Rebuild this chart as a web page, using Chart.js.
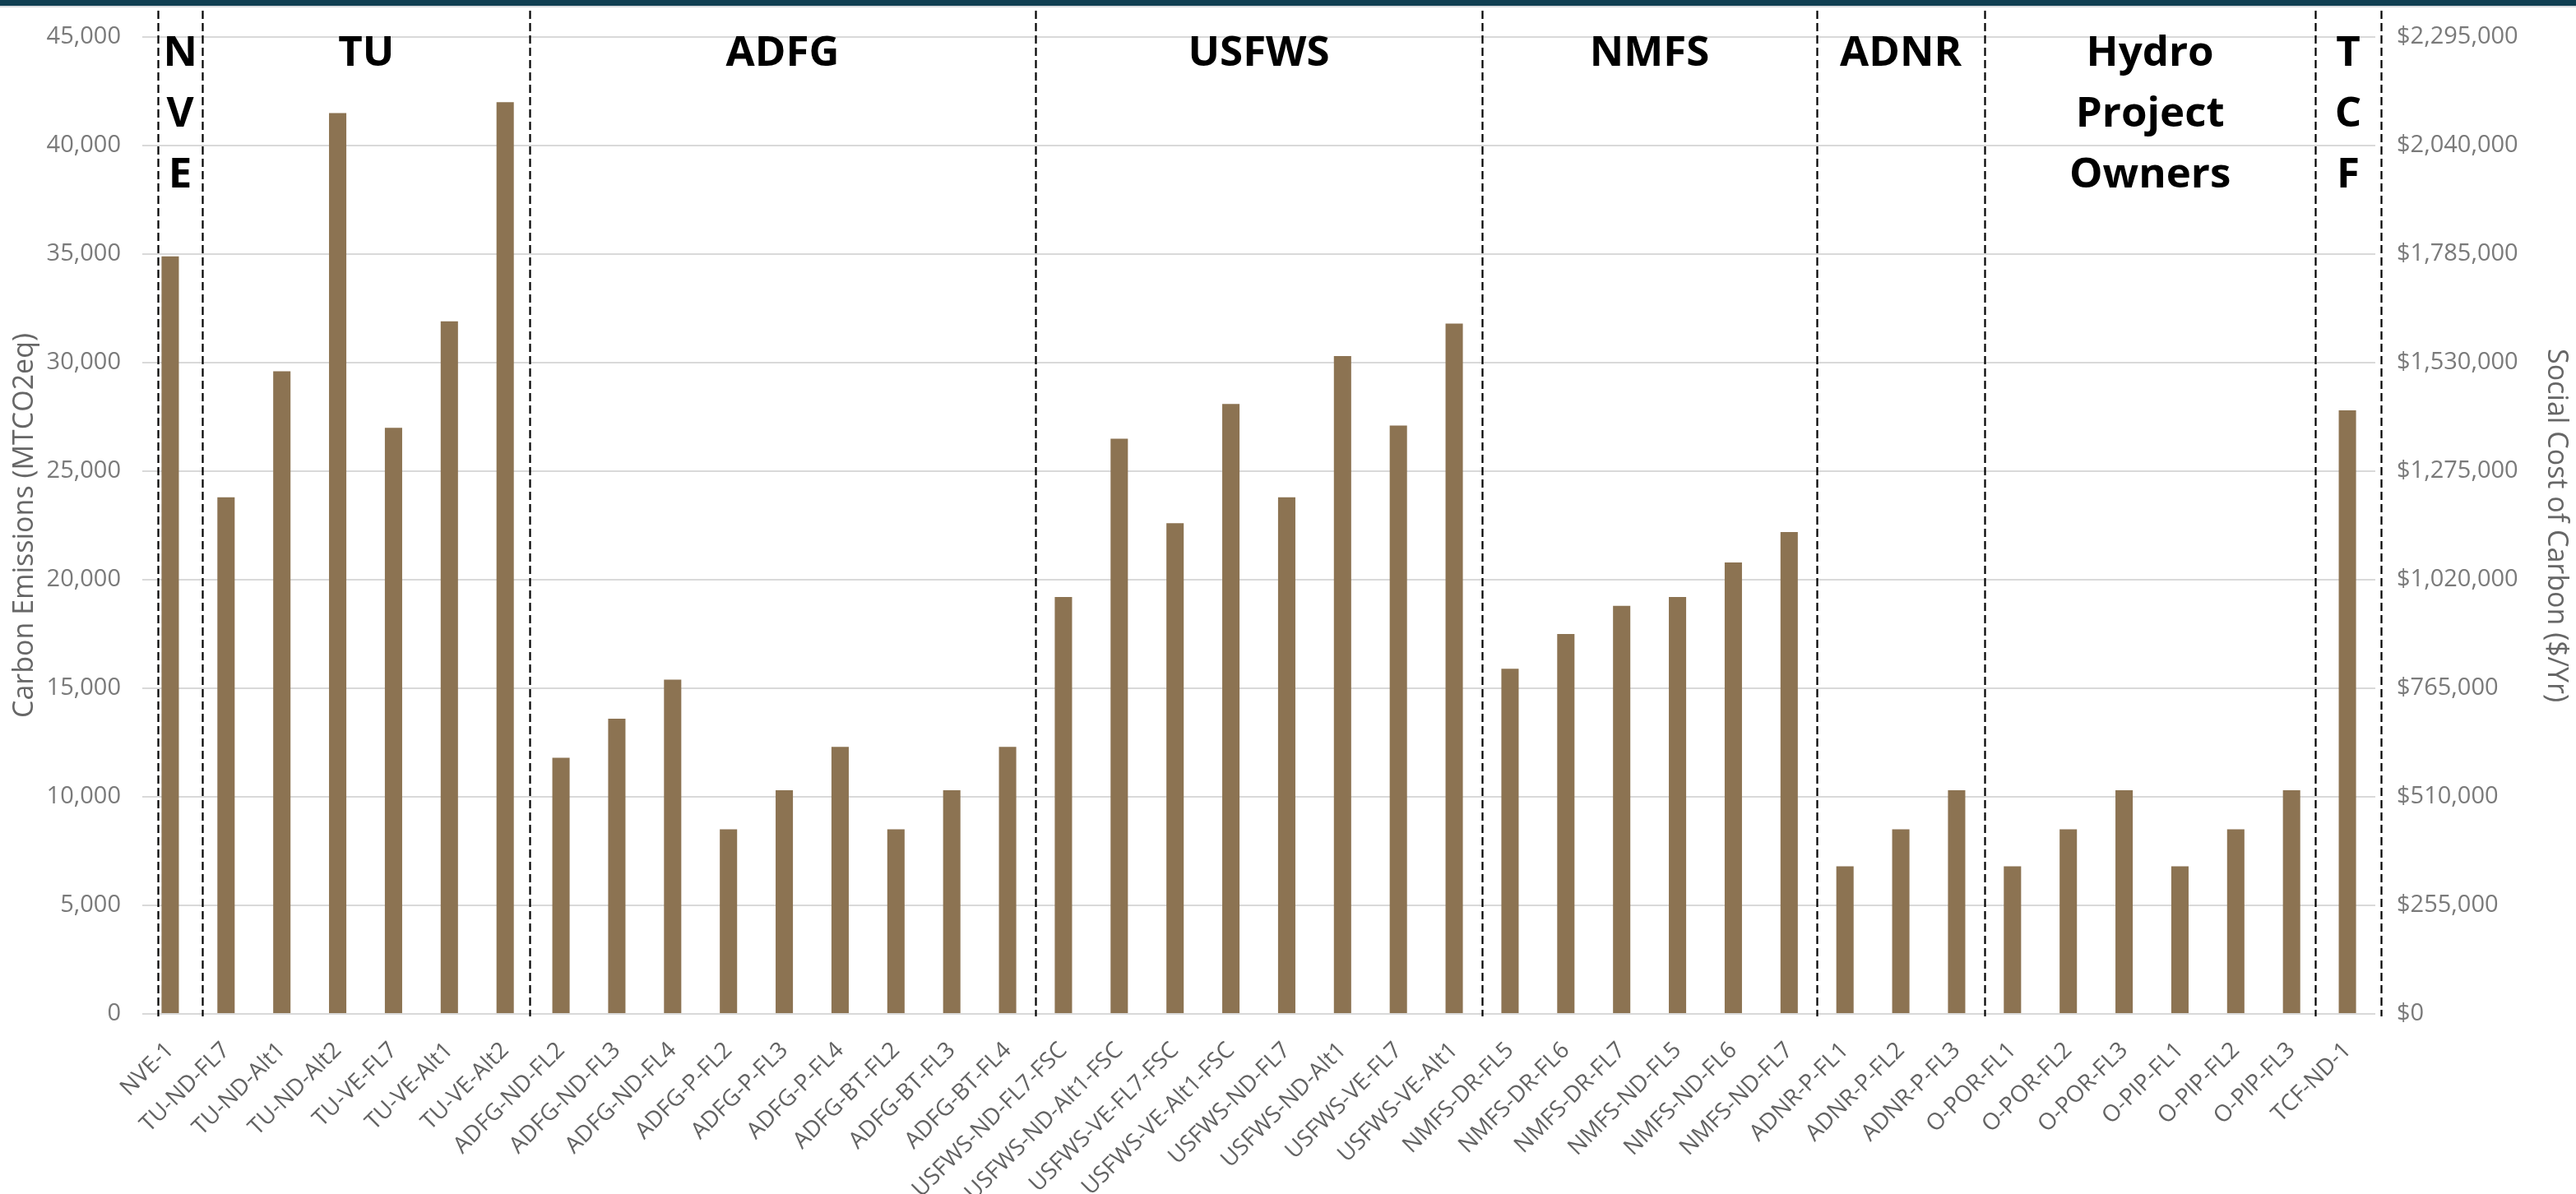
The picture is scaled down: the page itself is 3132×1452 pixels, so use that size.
<!DOCTYPE html>
<html>
<head>
<meta charset="utf-8">
<script src="https://cdn.jsdelivr.net/npm/chart.js@4.4.1/dist/chart.umd.min.js"></script>
<style>
  html, body { margin: 0; padding: 0; background: #ffffff; }
  #wrap { position: relative; width: 3132px; height: 1452px; }
</style>
</head>
<body>
<div id="wrap"><canvas id="chart"></canvas></div>
<script>
// Scenario names along the x axis
const scenarios = [
    'NVE-1',
    'TU-ND-FL7', 'TU-ND-Alt1', 'TU-ND-Alt2', 'TU-VE-FL7', 'TU-VE-Alt1', 'TU-VE-Alt2',
    'ADFG-ND-FL2', 'ADFG-ND-FL3', 'ADFG-ND-FL4', 'ADFG-P-FL2', 'ADFG-P-FL3', 'ADFG-P-FL4',
    'ADFG-BT-FL2', 'ADFG-BT-FL3', 'ADFG-BT-FL4',
    'USFWS-ND-FL7-FSC', 'USFWS-ND-Alt1-FSC', 'USFWS-VE-FL7-FSC', 'USFWS-VE-Alt1-FSC',
    'USFWS-ND-FL7', 'USFWS-ND-Alt1', 'USFWS-VE-FL7', 'USFWS-VE-Alt1',
    'NMFS-DR-FL5', 'NMFS-DR-FL6', 'NMFS-DR-FL7', 'NMFS-ND-FL5', 'NMFS-ND-FL6', 'NMFS-ND-FL7',
    'ADNR-P-FL1', 'ADNR-P-FL2', 'ADNR-P-FL3',
    'O-POR-FL1', 'O-POR-FL2', 'O-POR-FL3', 'O-PIP-FL1', 'O-PIP-FL2', 'O-PIP-FL3',
    'TCF-ND-1'
];

// Carbon emissions (MTCO2eq)
const emissions = [
    34900,
    23800, 29600, 41500, 27000, 31900, 42000,
    11800, 13600, 15400, 8500, 10300, 12300, 8500, 10300, 12300,
    19200, 26500, 22600, 28100, 23800, 30300, 27100, 31800,
    15900, 17500, 18800, 19200, 20800, 22200,
    6800, 8500, 10300,
    6800, 8500, 10300, 6800, 8500, 10300,
    27800
];

// Agency headers, one entry per line of text
const groupLabels = [
    ['N', 'V', 'E'], ['TU'], ['ADFG'], ['USFWS'], ['NMFS'], ['ADNR'],
    ['Hydro', 'Project', 'Owners'], ['T', 'C', 'F']
];

// Dashed separators, in category units (index of the bar)
const dividerAt = [-0.22, 0.58, 6.44, 15.5, 23.5, 29.5, 32.5, 38.43, 39.6];

// Axis ranges: the right axis is the left one times $51 per tonne
const emissionsMax = 45000;
const emissionsStep = 5000;
const costMax = 2295000;
const costStep = 255000;

const colors = {
    bar: '#8c7352',
    grid: '#d9d9d9',
    tick: '#7a7a7a',
    xTick: '#636363',
    title: '#666666',
    band: '#0f3e51'
};

const fmt = (v) => Number(v).toLocaleString('en-US');

// Top banner strip
const bandPlugin = {
    id: 'band',
    beforeDraw(chart) {
        const { ctx, width } = chart;
        ctx.save();
        ctx.fillStyle = '#ffffff';
        ctx.fillRect(0, 0, width, chart.height);
        ctx.fillStyle = colors.band;
        ctx.fillRect(0, 0, width, 7);
        ctx.fillStyle = '#d8dbde';
        ctx.fillRect(0, 7, width, 2);
        ctx.restore();
    }
};

// Dashed group separators and the bold agency headers
const groupPlugin = {
    id: 'groups',
    afterDatasetsDraw(chart) {
        const { ctx, chartArea } = chart;
        const x = chart.scales.x;
        ctx.save();
        ctx.strokeStyle = '#000000';
        ctx.lineWidth = 2.2;
        ctx.setLineDash([10, 5]);
        dividerAt.forEach(v => {
            const px = Math.round(x.getPixelForValue(v)) + 0.5;
            ctx.beginPath();
            ctx.moveTo(px, 13);
            ctx.lineTo(px, chartArea.bottom + 3);
            ctx.stroke();
        });
        ctx.setLineDash([]);

        ctx.fillStyle = '#000000';
        ctx.font = 'bold 51px "Open Sans"';
        ctx.textAlign = 'center';
        ctx.textBaseline = 'alphabetic';
        groupLabels.forEach((lines, i) => {
            const cx = x.getPixelForValue((dividerAt[i] + dividerAt[i + 1]) / 2);
            lines.forEach((line, j) => {
                ctx.fillText(line, cx, 80 + j * 74);
            });
        });
        ctx.restore();
    }
};

new Chart(document.getElementById('chart'), {
    type: 'bar',
    data: {
        labels: scenarios,
        datasets: [{
            label: 'Carbon Emissions',
            data: emissions,
            backgroundColor: colors.bar,
            borderWidth: 0,
            categoryPercentage: 1,
            barPercentage: 0.31,
            yAxisID: 'y'
        }]
    },
    options: {
        responsive: true,
        maintainAspectRatio: false,
        animation: false,
        layout: { padding: { top: 45, bottom: 0, left: 0, right: 0 } },
        scales: {
            x: {
                grid: { display: false, drawTicks: false },
                border: { display: false },
                ticks: {
                    autoSkip: false,
                    maxRotation: 45,
                    minRotation: 45,
                    padding: 28,
                    color: colors.xTick,
                    font: { family: 'Open Sans', size: 28 }
                },
                afterFit: (scale) => { scale.height = 219; }
            },
            y: {
                position: 'left',
                min: 0,
                max: emissionsMax,
                border: { display: false },
                grid: { color: colors.grid, lineWidth: 2, drawTicks: false },
                ticks: {
                    stepSize: emissionsStep,
                    padding: 26,
                    color: colors.tick,
                    font: { family: 'Open Sans', size: 29 },
                    callback: (v) => fmt(v)
                },
                title: {
                    display: true,
                    text: 'Carbon Emissions (MTCO2eq)',
                    color: colors.title,
                    font: { family: 'Open Sans', size: 34 },
                    padding: { top: 10, bottom: 0 }
                },
                afterFit: (scale) => { scale.width = 173; }
            },
            y2: {
                position: 'right',
                min: 0,
                max: costMax,
                border: { display: false },
                grid: { display: false, drawTicks: false },
                ticks: {
                    stepSize: costStep,
                    padding: 26,
                    color: colors.tick,
                    font: { family: 'Open Sans', size: 29 },
                    callback: (v) => '$' + fmt(v)
                },
                title: {
                    display: true,
                    text: 'Social Cost of Carbon ($/Yr)',
                    color: colors.title,
                    font: { family: 'Open Sans', size: 34 },
                    padding: { top: 4, bottom: 0 }
                },
                afterFit: (scale) => { scale.width = 244; }
            }
        },
        plugins: {
            legend: { display: false },
            tooltip: { enabled: false }
        }
    },
    plugins: [bandPlugin, groupPlugin]
});
</script>
</body>
</html>
